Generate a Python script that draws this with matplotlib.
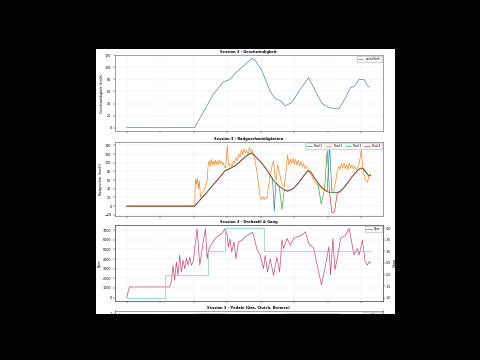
import numpy as np
import matplotlib
matplotlib.use("Agg")
import matplotlib.pyplot as plt
from matplotlib.patches import Rectangle

# --- Geschwindigkeit ---
t_speed = [0, 203, 233, 258, 288, 308, 323, 343, 373, 383, 403, 428, 443, 458, 473,
           493, 513, 543, 563, 583, 603, 618, 633, 653, 668, 678, 693, 708, 718, 725]
speed = [0, 0, 30, 55, 76, 80, 90, 100, 115, 112, 95, 60, 48, 45, 36,
         42, 60, 83, 60, 40, 33, 32, 31, 50, 67, 68, 80, 80, 70, 67]

# --- Radgeschwindigkeiten ---
t_wheel = [0, 203, 210, 218, 225, 240, 255, 270, 285, 293, 300, 308, 315, 325, 335,
           345, 355, 365, 373, 380, 390, 400, 405, 410, 418, 425, 435, 440, 445, 455,
           463, 470, 480, 490, 500, 510, 520, 530, 540, 550, 560, 570, 580, 590, 598,
           605, 612, 620, 628, 635, 642, 650, 658, 665, 672, 680, 690, 700, 706, 712,
           718, 722, 728]
rad1 = [0, 0, 7, 14, 20, 33, 47, 60, 74, 82, 84, 87, 90, 94, 101,
        108, 115, 120, 123, 118, 110, 102, 97, 92, 84, 75, 63, -12, 54, 46,
        42, 38, 35, 38, 43, 52, 62, 72, 82, 78, 65, 55, 45, 38, 34,
        140, 31, 31, 32, 33, 38, 45, 53, 60, 68, 75, 84, 88, 86, 80,
        74, 70, 72]
rad3 = [0, 0, 7, 14, 20, 33, 47, 60, 74, 82, 84, 87, 90, 94, 101,
        108, 115, 120, 123, 118, 110, 102, 97, 92, 84, 75, 63, 58, 54, 46,
        -8, 38, 35, 38, 43, 52, 62, 72, 82, 78, 65, 55, 5, 38, 128,
        32, 31, 31, 32, 33, 38, 45, 53, 60, 68, 75, 84, 88, 86, 80,
        74, 70, 72]
rad4 = [0, 0, 6, 13, 19, 32, 46, 59, 73, 81, 83, 86, 89, 93, 100,
        107, 114, 119, 122, 117, 109, 101, 96, 91, 83, 74, 62, 57, 53, 45,
        41, 37, 34, 37, 42, 51, 61, 71, 81, 77, 64, 54, 44, 37, 33,
        31, -15, -13, 31, 32, 37, 44, 52, 59, 67, 74, 83, 87, 85, 79,
        73, 69, 71]
t_rad2 = [0, 203, 205, 208, 211, 214, 217, 220, 225, 232, 240, 243, 246, 249, 252,
          255, 258, 261, 264, 267, 270, 273, 276, 279, 282, 285, 288, 291, 295, 300,
          303, 306, 310, 314, 318, 322, 326, 330, 334, 338, 342, 346, 350, 354, 358,
          362, 366, 370, 374, 378, 382, 386, 390, 394, 398, 402, 406, 410, 414, 418,
          422, 426, 430, 434, 438, 442, 446, 450, 455, 460, 465, 470, 475, 480, 484,
          488, 492, 496, 500, 504, 508, 512, 516, 520, 524, 528, 532, 536, 540, 545,
          550, 555, 560, 565, 570, 575, 580, 585, 590, 595, 600, 605, 610, 615, 620,
          624, 628, 632, 636, 640, 644, 648, 652, 656, 660, 664, 668, 672, 676, 680,
          684, 688, 692, 696, 700, 703, 706, 710, 714, 718, 722, 725, 728]
rad2 = [0, 0, 62, 50, 65, 40, 58, 20, 30, 38, 60, 95, 105, 92, 108,
        96, 104, 94, 106, 97, 103, 95, 107, 99, 104, 96, 100, 92, 88, 140,
        100, 92, 98, 90, 104, 100, 112, 105, 120, 112, 130, 118, 132, 122, 128,
        120, 135, 126, 130, 118, 110, 90, 70, 45, 20, 15, 22, 15, 20, 18,
        40, 62, 80, 95, 104, 70, 60, 95, 80, 60, 48, 45, 80, 118, 95,
        108, 98, 110, 96, 108, 94, 105, 92, 104, 90, 98, 86, 92, 88, 78,
        72, 64, 58, 52, 48, 44, 42, 40, 38, 36, 34, 33, 31, 30, 45,
        60, 80, 92, 85, 98, 88, 100, 86, 96, 84, 100, 88, 95, 86, 92,
        84, 88, 96, 110, 130, 90, 82, 65, 58, 55, 68, 72, 70]

# --- Drehzahl & Gang ---
t_rpm = [0, 8, 128, 133, 138, 143, 148, 153, 158, 163, 168, 173, 178, 183, 188,
         193, 198, 203, 210, 218, 228, 235, 240, 244, 253, 268, 283, 293, 300, 303,
         308, 313, 320, 326, 333, 343, 353, 368, 376, 388, 398, 408, 413, 420, 428,
         438, 448, 456, 463, 468, 478, 488, 498, 508, 523, 533, 543, 558, 568, 581,
         593, 603, 608, 615, 621, 628, 638, 653, 663, 669, 678, 688, 693, 703, 711,
         718, 723, 728]
rpm = [0, 1100, 1100, 1620, 3350, 1800, 3700, 2300, 4400, 2650, 3860, 3000, 4100, 3350, 4200,
       3350, 3700, 5070, 7140, 3350, 5760, 7140, 4040, 4900, 5600, 6280, 6620, 7140, 6450, 5240,
       6100, 4730, 5760, 4040, 5760, 5930, 6280, 6620, 6800, 5070, 4380, 3000, 4380, 2650, 4040,
       2300, 4200, 2650, 5970, 5100, 6140, 5450, 6140, 6310, 6490, 6830, 5620, 5100, 3380, 1310,
       3380, 5280, 2350, 6140, 2860, 4070, 6140, 6490, 7180, 6140, 4420, 5100, 4420, 5970, 3730,
       3380, 3730, 3550]
t_gear = [0, 113, 241, 293, 408, 728]
gear = [1, 2, 3, 4, 3, 3]

# --- Pedale ---
t_ped = [0, 203, 230, 300, 400, 470, 560, 640, 728]
gas = [0, 1.0, 1.0, 1.0, 0.0, 1.0, 1.0, 1.0, 0.8]
clutch = [0, 0, 0, 0, 0, 0, 0, 0, 0]
brake = [0, 0, 0, 0, 0.6, 0, 0, 0, 0]

W, H = 480, 360
fig = plt.figure(figsize=(4.8, 3.6), dpi=100, facecolor="black")
# weisses Blatt
fig.patches.append(Rectangle((96 / W, 1 - 314 / H), 299 / W, 265 / H,
                             transform=fig.transFigure, facecolor="white",
                             edgecolor="none", zorder=-5))

def box(top, bottom):
    return [114.5 / W, 1 - bottom / H, (383 - 114.5) / W, (bottom - top) / H]

tfs = 2.6
kfs = 2.4

def style(ax, title):
    ax.set_title(title, fontsize=tfs, fontweight="bold", pad=1.5)
    ax.tick_params(labelsize=kfs, length=1.2, width=0.3, pad=1)
    ax.grid(True, alpha=0.25, linewidth=0.3)
    for s in ax.spines.values():
        s.set_linewidth(0.4)
        s.set_color("#555555")

ax1 = fig.add_axes(box(55, 131))
ax1.plot(t_speed, speed, color="#56789e", lw=0.45, label="speedKmh")
style(ax1, "Session 3 - Geschwindigkeit")
ax1.set_ylabel("Geschwindigkeit (km/h)", fontsize=kfs, labelpad=1)
ax1.legend(loc="upper right", fontsize=kfs - 0.3, frameon=True, framealpha=0.8,
           handlelength=2, borderpad=0.3)
plt.setp(ax1.get_xticklabels(), visible=False)

ax2 = fig.add_axes(box(142, 216), sharex=ax1)
ax2.plot(t_wheel, rad1, color="tab:blue", lw=0.45, label="Rad 1")
ax2.plot(t_rad2, rad2, color="tab:orange", lw=0.45, label="Rad 2")
ax2.plot(t_wheel, rad3, color="tab:green", lw=0.45, label="Rad 3")
ax2.plot(t_wheel, rad4, color="tab:red", lw=0.45, label="Rad 4")
style(ax2, "Session 3 - Radgeschwindigkeiten")
ax2.set_ylabel("Radgeschw. (km/h)", fontsize=kfs, labelpad=1)
ax2.legend(loc="upper right", ncol=4, fontsize=kfs - 0.3, frameon=True,
           framealpha=0.8, handlelength=2, borderpad=0.3, columnspacing=1)
plt.setp(ax2.get_xticklabels(), visible=False)

ax3 = fig.add_axes(box(225, 301), sharex=ax1)
ax3.plot(t_rpm, rpm, color="#c24a70", lw=0.5, label="Rpm")
style(ax3, "Session 3 - Drehzahl & Gang")
ax3.set_ylabel("Rpm", fontsize=kfs, labelpad=1)
ax3.legend(loc="upper right", fontsize=kfs - 0.3, frameon=True, framealpha=0.8,
           handlelength=2, borderpad=0.3)
plt.setp(ax3.get_xticklabels(), visible=False)
ax3b = ax3.twinx()
ax3b.step(t_gear, gear, where="post", color="#84cccc", lw=0.5, label="Gang")
ax3b.set_ylabel("Gang", fontsize=kfs, labelpad=1)
ax3b.set_yticks([1.0, 1.5, 2.0, 2.5, 3.0, 3.5, 4.0])
ax3b.tick_params(labelsize=kfs, length=1.2, width=0.3, pad=1)
for s in ax3b.spines.values():
    s.set_linewidth(0.4)
    s.set_color("#555555")

ax4 = fig.add_axes(box(310.5, 386.5), sharex=ax1)
ax4.plot(t_ped, gas, color="tab:green", lw=0.5, alpha=0.5, label="Gas")
ax4.plot(t_ped, clutch, color="tab:blue", lw=0.5, alpha=0.5, label="Clutch")
ax4.plot(t_ped, brake, color="tab:red", lw=0.5, alpha=0.5, label="Brake")
style(ax4, "Session 3 - Pedale (Gas, Clutch, Bremse)")
ax4.set_yticks([1.0])
plt.setp(ax4.get_xticklabels(), visible=False)
ax4.legend(loc="upper right", fontsize=kfs - 0.3, frameon=True, framealpha=0.8,
           handlelength=2, borderpad=0.3)

# unterer Rand schwarz (Bild abgeschnitten)
fig.patches.append(Rectangle((0, 0), 1, 1 - 314 / H, transform=fig.transFigure,
                             facecolor="black", edgecolor="none", zorder=100))

fig.savefig("out.png", dpi=100, facecolor="black")
